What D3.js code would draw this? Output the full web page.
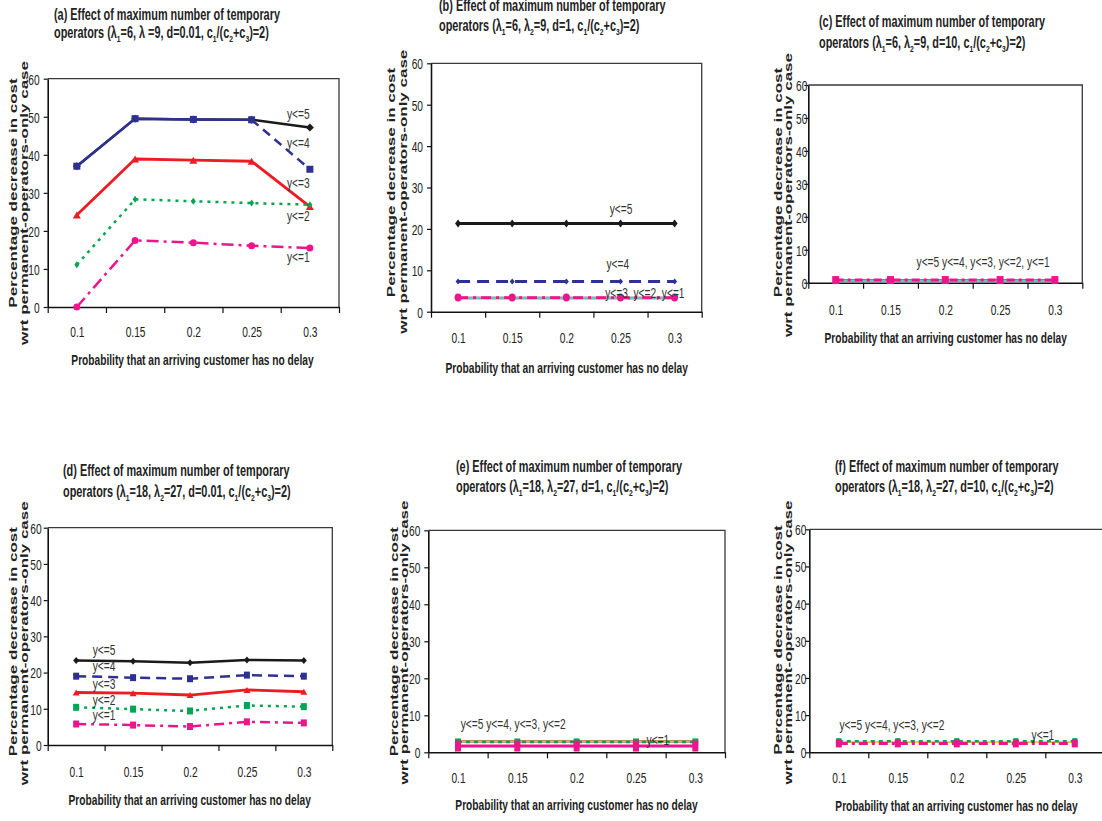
<!DOCTYPE html>
<html><head><meta charset="utf-8">
<script src="https://d3js.org/d3.v7.min.js"></script>
<style>body{margin:0;background:#fff} svg{display:block}</style>
</head><body><svg id="chart" width="1102" height="821"></svg>
<script>
// ---------------- DATA ----------------
const categories = ["0.1", "0.15", "0.2", "0.25", "0.3"];
const yTicks = [0, 10, 20, 30, 40, 50, 60];
const seriesNames = ["y<=5", "y<=4", "y<=3", "y<=2", "y<=1"];
const titleLine1 = "Effect of maximum number of temporary";
const xTitleText = "Probability that an arriving customer has no delay";
const yTitle1 = "Percentage decrease in cost";
const yTitle2 = "wrt permanent-operators-only case";

// (a) lambda1=6, d=0.01
const aY5 = [37.0, 49.5, 49.3, 49.2, 47.2];
const aY4 = [37.0, 49.5, 49.3, 49.2, 36.2];
const aY3 = [24.2, 38.9, 38.6, 38.3, 26.4];
const aY2 = [11.1, 28.3, 27.8, 27.3, 26.9];
const aY1 = [0.0, 17.5, 16.9, 16.1, 15.5];
const aLabelText = ["y<=5", "y<=4", "y<=3", "y<=2", "y<=1"];
const aLabelX = [3.8, 3.8, 3.8, 3.8, 3.8];
const aLabelY = [49.3, 41.9, 31.4, 22.5, 11.7];

// (b) lambda1=6, d=1
const bY5 = [21.3, 21.3, 21.3, 21.3, 21.3];
const bY4 = [7.3, 7.3, 7.3, 7.3, 7.3];
const bY3 = [3.3, 3.3, 3.3, 3.3, 3.3];
const bY2 = [3.3, 3.3, 3.3, 3.3, 3.3];
const bY1 = [3.4, 3.4, 3.4, 3.4, 3.4];
const bLabelText = ["y<=5", "y<=4", "y<=3, y<=2, y<=1"];
const bLabelX = [3.01, 2.95, 3.45];
const bLabelY = [23.5, 10.2, 3.4];

// (c) lambda1=6, d=10
const cY5 = [0.6, 0.6, 0.6, 0.6, 0.6];
const cY4 = [0.6, 0.6, 0.6, 0.6, 0.6];
const cY3 = [0.6, 0.6, 0.6, 0.6, 0.6];
const cY2 = [0.6, 0.6, 0.6, 0.6, 0.6];
const cY1 = [0.8, 0.8, 0.8, 0.8, 0.8];
const cLabelText = ["y<=5 y<=4, y<=3, y<=2, y<=1"];
const cLabelX = [2.69];
const cLabelY = [4.9];

// (d) lambda1=18, d=0.01
const dY5 = [23.3, 23.1, 22.7, 23.5, 23.3];
const dY4 = [19.0, 18.6, 18.3, 19.3, 19.0];
const dY3 = [14.5, 14.3, 13.8, 15.2, 14.7];
const dY2 = [10.4, 9.9, 9.4, 10.9, 10.6];
const dY1 = [5.8, 5.5, 5.1, 6.4, 6.1];
const dLabelText = ["y<=5", "y<=4", "y<=3", "y<=2", "y<=1"];
const dLabelX = [0.49, 0.49, 0.49, 0.49, 0.49];
const dLabelY = [24.8, 20.3, 15.5, 11.0, 6.9];

// (e) lambda1=18, d=1
const eY5 = [3.0, 3.0, 3.0, 3.0, 3.0];
const eY4 = [3.0, 3.0, 3.0, 3.0, 3.0];
const eY3 = [3.0, 3.0, 3.0, 3.0, 3.0];
const eY2 = [2.8, 2.8, 2.8, 2.8, 2.8];
const eY1 = [1.7, 1.7, 1.7, 1.7, 1.7];
const eLabelText = ["y<=5 y<=4, y<=3, y<=2", "y<=1"];
const eLabelX = [0.93, 3.37];
const eLabelY = [6.4, 2.1];

// (f) lambda1=18, d=10
const fY5 = [2.8, 2.8, 2.8, 2.8, 2.8];
const fY4 = [2.8, 2.8, 2.8, 2.8, 2.8];
const fY3 = [2.8, 2.8, 2.8, 2.8, 2.8];
const fY2 = [3.0, 3.0, 3.0, 3.0, 3.0];
const fY1 = [2.4, 2.4, 2.4, 2.4, 2.4];
const fLabelText = ["y<=5 y<=4, y<=3, y<=2", "y<=1"];
const fLabelX = [0.90, 3.46];
const fLabelY = [6.1, 3.2];

// ---------------- STYLE / LAYOUT ----------------
const SX = 0.68;   // horizontal squash of all text (reference is condensed)
const FONT = "'Liberation Sans', Arial, Helvetica, sans-serif";
const C = {
  black: "#1a1a1a", blue: "#2e3192", red: "#ed1c24", green: "#00a651",
  magenta: "#ec168c", cyan: "#5cc8c0", orange: "#f5ad45", yellow: "#ecd43a"
};

const panels = [
  { letter: "(a)", params: "operators (λ_1=6, λ =9, d=0.01, c_1/(c_2+c_3)=2)",
    values: [aY5, aY4, aY3, aY2, aY1], labelText: aLabelText, labelX: aLabelX, labelY: aLabelY,
    L: 47.7, R: 339, T: 78.7, B: 307, titleX: 54, titleY: [20, 38.3], xTickY: 337.3,
    xTitle: [192.5, 365], yT1: [16.7, 193], yT2: [28.3, 203], gap: 8,
    styles: [
      { color: C.black, w: 2.5, dash: null, m: "diamond", mw: 8, mh: 8 },
      { color: C.blue, w: 2.5, dash: "9,6", dashFrom: 3, m: "square", mw: 7, mh: 7 },
      { color: C.red, w: 2.8, dash: null, m: "triangle", mw: 8, mh: 7 },
      { color: C.green, w: 2.5, dash: "3,5", m: "diamond", mw: 5, mh: 7 },
      { color: C.magenta, w: 2.5, dash: "12,5,3,5", m: "circle", mw: 7, mh: 7 }
    ] },
  { letter: "(b)", params: "operators (λ_1=6, λ_2=9, d=1, c_1/(c_2+c_3)=2)",
    values: [bY5, bY4, bY3, bY2, bY1], labelText: bLabelText, labelX: bLabelX, labelY: bLabelY,
    L: 431, R: 701.7, T: 63.3, B: 311.7, titleX: 439, titleY: [10.7, 30.7], xTickY: 343.3,
    xTitle: [566.7, 372.7], yT1: [395, 182.5], yT2: [407, 191.7], gap: 8,
    styles: [
      { color: C.black, w: 2.8, dash: null, m: "diamond", mw: 6, mh: 8 },
      { color: C.blue, w: 3, dash: "12,7", m: "diamond", mw: 5, mh: 6 },
      { color: C.red, w: 2.5, dash: null, m: null },
      { color: C.cyan, w: 2.5, dash: null, m: null },
      { color: C.magenta, w: 2.8, dash: "10,5,3,5", m: "circle", mw: 7, mh: 8 }
    ] },
  { letter: "(c)", params: "operators (λ_1=6, λ_2=9, d=10, c_1/(c_2+c_3)=2)",
    values: [cY5, cY4, cY3, cY2, cY1], labelText: cLabelText, labelX: cLabelX, labelY: cLabelY,
    L: 808.3, R: 1082.3, T: 85, B: 282.7, titleX: 819, titleY: [26.7, 48.3], xTickY: 315,
    xTitle: [945.7, 343.3], yT1: [781.7, 182.5], yT2: [791.7, 195], gap: 1,
    styles: [
      { color: C.black, w: 2.5, dash: null, m: null },
      { color: C.blue, w: 2.5, dash: null, m: null },
      { color: C.red, w: 2.5, dash: null, m: null },
      { color: C.cyan, w: 2.5, dash: null, m: null },
      { color: C.magenta, w: 3, dash: "8,4,3,4", m: "square", mw: 7, mh: 8 }
    ] },
  { letter: "(d)", params: "operators (λ_1=18, λ_2=27, d=0.01, c_1/(c_2+c_3)=2)",
    values: [dY5, dY4, dY3, dY2, dY1], labelText: dLabelText, labelX: dLabelX, labelY: dLabelY,
    L: 47.7, R: 332.3, T: 527.7, B: 745, titleX: 63, titleY: [476, 496.7], xTickY: 777.3,
    xTitle: [189.7, 805], yT1: [16.7, 641.7], yT2: [28.3, 643.3], gap: 6,
    styles: [
      { color: C.black, w: 2.5, dash: null, m: "diamond", mw: 6, mh: 7 },
      { color: C.blue, w: 2.5, dash: "10,6", m: "square", mw: 6, mh: 7 },
      { color: C.red, w: 2.8, dash: null, m: "triangle", mw: 7, mh: 6 },
      { color: C.green, w: 2.5, dash: "3,5", m: "square", mw: 6, mh: 7 },
      { color: C.magenta, w: 2.5, dash: "10,5,3,5", m: "square", mw: 6, mh: 7 }
    ] },
  { letter: "(e)", params: "operators (λ_1=18, λ_2=27, d=1, c_1/(c_2+c_3)=2)",
    values: [eY5, eY4, eY3, eY2, eY1], labelText: eLabelText, labelX: eLabelX, labelY: eLabelY,
    L: 428.3, R: 725, T: 530.3, B: 752.3, titleX: 456, titleY: [471.7, 491.7], xTickY: 783.3,
    xTitle: [576.5, 810], yT1: [398.3, 641.7], yT2: [408.3, 642.5], gap: 8,
    styles: [
      { color: C.black, w: 2, dash: null, m: null },
      { color: C.blue, w: 2, dash: null, m: null },
      { color: C.orange, w: 2, dash: null, m: null },
      { color: C.green, w: 2.5, dash: "4,4", m: "square", mw: 6, mh: 7 },
      { color: C.magenta, w: 3, dash: null, m: "square", mw: 6, mh: 11 }
    ] },
  { letter: "(f)", params: "operators (λ_1=18, λ_2=27, d=10, c_1/(c_2+c_3)=2)",
    values: [fY5, fY4, fY3, fY2, fY1], labelText: fLabelText, labelX: fLabelX, labelY: fLabelY,
    L: 809.3, R: 1104.3, T: 529.3, B: 752.3, titleX: 835, titleY: [472.3, 492.3], xTickY: 783.3,
    xTitle: [956.5, 810.7], yT1: [781.7, 640], yT2: [792, 642.5], gap: 3,
    styles: [
      { color: C.black, w: 2, dash: null, m: null },
      { color: C.blue, w: 2, dash: null, m: null },
      { color: C.yellow, w: 2, dash: null, m: null },
      { color: C.green, w: 2.5, dash: "4,4", m: "square", mw: 5, mh: 6 },
      { color: C.magenta, w: 3, dash: "9,4,3,4", m: "square", mw: 6, mh: 8 }
    ] }
];

// ---------------- DRAW ----------------
const svg = d3.select("#chart");
svg.append("rect").attr("width", 1102).attr("height", 821).attr("fill", "#fff");

function hText(g, x, y, str, size, weight, anchor) {
  return g.append("text")
    .attr("transform", `translate(${x},${y}) scale(${SX},1)`)
    .attr("font-family", FONT).attr("font-size", size).attr("font-weight", weight || "normal")
    .attr("text-anchor", anchor || "start").attr("fill", "#222").text(str);
}

function subText(g, x, y, str, size) {
  const t = g.append("text")
    .attr("transform", `translate(${x},${y}) scale(${SX},1)`)
    .attr("font-family", FONT).attr("font-size", size).attr("font-weight", "bold").attr("fill", "#222");
  const parts = str.split(/_(\d)/);
  parts.forEach((s, i) => {
    if (i % 2 === 0) {
      const ts = t.append("tspan").text(s);
      if (i > 0) ts.attr("dy", -4);
    } else {
      t.append("tspan").attr("dy", 4).attr("font-size", size * 0.62).text(s);
    }
  });
}

function markerPath(shape, w, h) {
  const a = w / 2, b = h / 2;
  if (shape === "diamond") return `M0,${-b}L${a},0L0,${b}L${-a},0Z`;
  if (shape === "triangle") return `M0,${-b}L${a},${b}L${-a},${b}Z`;
  if (shape === "square") return `M${-a},${-b}H${a}V${b}H${-a}Z`;
  if (shape === "circle") return `M${-a},0A${a},${b} 0 1,0 ${a},0A${a},${b} 0 1,0 ${-a},0Z`;
  return "";
}

panels.forEach(p => {
  const g = svg.append("g");
  const x = d3.scaleLinear().domain([-0.5, categories.length - 0.5]).range([p.L, p.R]);
  const y = d3.scaleLinear().domain([0, 60]).range([p.B, p.T]);

  // frame (top & right)
  g.append("path").attr("d", `M${p.L},${p.T}H${p.R}V${p.B}`)
    .attr("fill", "none").attr("stroke", "#3a3a3a").attr("stroke-width", 1.3);

  // y axis
  const gy = g.append("g").attr("transform", `translate(${p.L},0)`)
    .call(d3.axisLeft(y).tickValues(yTicks).tickSize(4).tickSizeOuter(0));
  gy.select(".domain").attr("stroke", "#111").attr("stroke-width", 1.6);
  gy.selectAll(".tick line").attr("stroke", "#111").attr("stroke-width", 1.2);
  gy.selectAll(".tick text")
    .attr("x", -p.gap / SX).attr("dy", "0.36em")
    .attr("transform", `scale(${SX},1)`)
    .attr("font-family", FONT).attr("font-size", 15).attr("fill", "#222");

  // x axis: boundary tick marks
  const bounds = d3.range(categories.length + 1).map(i => i - 0.5);
  const gx = g.append("g").attr("transform", `translate(0,${p.B})`)
    .call(d3.axisBottom(x).tickValues(bounds).tickSize(6).tickSizeOuter(0).tickFormat(""));
  gx.select(".domain").attr("stroke", "#111").attr("stroke-width", 1.6);
  gx.selectAll(".tick line").attr("stroke", "#111").attr("stroke-width", 1.2);

  // x axis category labels
  const gxl = g.append("g").attr("transform", `translate(0,${p.B})`)
    .call(d3.axisBottom(x).tickValues(d3.range(categories.length)).tickSize(0)
      .tickFormat(i => categories[i]));
  gxl.select(".domain").remove();
  gxl.selectAll(".tick text")
    .attr("y", p.xTickY - p.B).attr("dy", 0)
    .attr("transform", `scale(${SX},1)`)
    .attr("font-family", FONT).attr("font-size", 15).attr("fill", "#222");

  // titles
  hText(g, p.titleX, p.titleY[0], p.letter + " " + titleLine1, 16, "bold");
  subText(g, p.titleX, p.titleY[1], p.params, 16);
  hText(g, p.xTitle[0], p.xTitle[1], xTitleText, 15, "bold", "middle");
  g.append("text").attr("transform", `translate(${p.yT1[0]},${p.yT1[1]}) scale(${SX},1) rotate(-90)`)
    .attr("font-family", FONT).attr("font-size", 17).attr("font-weight", "bold")
    .attr("text-anchor", "middle").attr("fill", "#222").text(yTitle1);
  g.append("text").attr("transform", `translate(${p.yT2[0]},${p.yT2[1]}) scale(${SX},1) rotate(-90)`)
    .attr("font-family", FONT).attr("font-size", 17).attr("font-weight", "bold")
    .attr("text-anchor", "middle").attr("fill", "#222").text(yTitle2);

  // series
  const line = d3.line().x(d => x(d[0])).y(d => y(d[1]));
  p.values.forEach((vals, si) => {
    const st = p.styles[si];
    const pts = vals.map((v, i) => [i, v]);
    const segs = [];
    if (st.dashFrom !== undefined) {
      segs.push({ pts: pts.slice(0, st.dashFrom + 1), dash: null });
      segs.push({ pts: pts.slice(st.dashFrom), dash: st.dash });
    } else segs.push({ pts: pts, dash: st.dash });
    segs.forEach(sg => {
      g.append("path").datum(sg.pts).attr("d", line)
        .attr("fill", "none").attr("stroke", st.color).attr("stroke-width", st.w)
        .attr("stroke-dasharray", sg.dash).attr("stroke-linejoin", "round");
    });
    if (st.m) {
      g.selectAll(null).data(pts).enter().append("path")
        .attr("transform", d => `translate(${x(d[0])},${y(d[1])})`)
        .attr("d", markerPath(st.m, st.mw, st.mh)).attr("fill", st.color);
    }
  });

  // series labels
  p.labelText.forEach((t, i) => {
    hText(g, x(p.labelX[i]), y(p.labelY[i]), t, 15, "normal", "middle").attr("fill", "#333");
  });
});
</script></body></html>
